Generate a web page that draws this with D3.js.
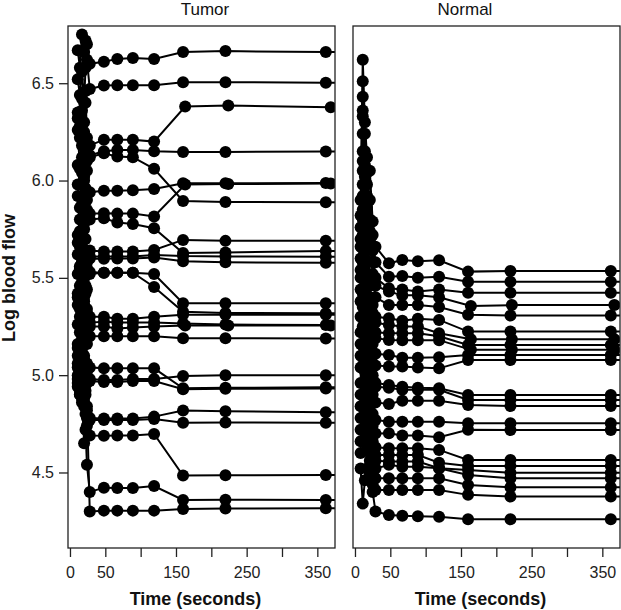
<!DOCTYPE html>
<html><head><meta charset="utf-8">
<script src="https://cdn.jsdelivr.net/npm/d3@7"></script>
<style>
body{margin:0;background:#fff}
svg{display:block}
text{font-family:"Liberation Sans",Arial,Helvetica,sans-serif}
</style>
</head><body>
<svg id="chart" width="621" height="610"></svg>
<script>
// ---------- DATA ----------
const panelNames = ["Tumor", "Normal"];
const xTicks = [0, 50, 100, 150, 200, 250, 300, 350];
const xTickLabels = ["0", "50", "", "150", "", "250", "", "350"];
const yTicks = [4.5, 5.0, 5.5, 6.0, 6.5];
const yTickLabels = ["4.5", "5.0", "5.5", "6.0", "6.5"];
const xTitle = "Time (seconds)";
const yTitle = "Log blood flow";

const tumorTimes  = [11, 14, 17, 20, 22, 24, 28, 48, 67, 89, 119, 160, 220, 362, 420];
const tumorTimesB = [11, 14, 17, 20, 22, 24, 28, 48, 67, 89, 119, 163, 224, 369, 420];
const tumorTimesBIds = ["T3", "T7", "T16"];
const tumorIds = ["T1","T2","T3","T4","T5","T6","T7","T8","T9","T10","T11","T12","T13",
                  "T14","T15","T16","T17","T18","T19","T20","T21","T22","T23","T24","T25"];
const tumorValues = [
  [6.67, 6.58, 6.75, 6.66, 6.72, 6.70, 6.60, 6.61, 6.625, 6.63, 6.625, 6.66, 6.665, 6.66, 6.66],
  [6.52, 6.44, 6.56, 6.40, 6.58, 6.62, 6.47, 6.488, 6.49, 6.49, 6.49, 6.505, 6.505, 6.503, 6.503],
  [6.35, 6.28, 6.42, 6.30, 6.46, 6.22, 6.18, 6.21, 6.21, 6.21, 6.20, 6.38, 6.385, 6.377, 6.377],
  [6.32, 6.22, 6.36, 6.25, 6.40, 6.10, 6.13, 6.15, 6.157, 6.157, 6.15, 6.147, 6.147, 6.149, 6.149],
  [6.26, 6.06, 6.18, 6.00, 6.22, 6.05, 6.12, 6.14, 6.123, 6.12, 6.06, 5.895, 5.89, 5.888, 5.888],
  [6.08, 5.98, 6.12, 6.02, 6.16, 5.90, 5.94, 5.947, 5.947, 5.95, 5.957, 5.986, 5.986, 5.987, 5.987],
  [5.98, 5.86, 6.04, 5.92, 5.96, 5.80, 5.83, 5.832, 5.83, 5.83, 5.815, 5.98, 5.982, 5.985, 5.985],
  [5.92, 5.74, 5.88, 5.78, 5.90, 5.85, 5.80, 5.806, 5.784, 5.777, 5.755, 5.628, 5.63, 5.638, 5.638],
  [5.72, 5.80, 5.66, 5.75, 5.84, 5.60, 5.64, 5.635, 5.635, 5.635, 5.643, 5.695, 5.69, 5.691, 5.691],
  [5.68, 5.56, 5.74, 5.62, 5.70, 5.58, 5.61, 5.61, 5.61, 5.61, 5.618, 5.612, 5.61, 5.609, 5.609],
  [5.52, 5.66, 5.58, 5.70, 5.64, 5.55, 5.60, 5.598, 5.60, 5.60, 5.605, 5.585, 5.58, 5.578, 5.578],
  [5.62, 5.46, 5.58, 5.50, 5.56, 5.44, 5.53, 5.526, 5.526, 5.526, 5.52, 5.37, 5.37, 5.369, 5.369],
  [5.42, 5.55, 5.48, 5.38, 5.46, 5.52, 5.52, 5.526, 5.526, 5.526, 5.453, 5.326, 5.32, 5.318, 5.318],
  [5.40, 5.34, 5.46, 5.36, 5.42, 5.32, 5.30, 5.30, 5.29, 5.29, 5.30, 5.31, 5.31, 5.31, 5.31],
  [5.36, 5.22, 5.30, 5.40, 5.34, 5.26, 5.27, 5.275, 5.27, 5.27, 5.27, 5.265, 5.26, 5.258, 5.258],
  [5.16, 5.30, 5.24, 5.20, 5.28, 5.34, 5.25, 5.25, 5.24, 5.245, 5.25, 5.255, 5.255, 5.255, 5.255],
  [5.26, 5.12, 5.18, 5.28, 5.22, 5.16, 5.20, 5.20, 5.20, 5.20, 5.20, 5.19, 5.19, 5.189, 5.189],
  [5.14, 5.08, 5.20, 5.10, 5.16, 5.02, 5.04, 5.035, 5.035, 5.035, 5.035, 4.933, 4.935, 4.938, 4.938],
  [5.10, 5.04, 5.12, 4.98, 5.00, 5.06, 4.98, 4.975, 4.975, 4.98, 4.98, 4.996, 4.999, 4.999, 4.999],
  [5.06, 4.94, 5.02, 5.08, 4.92, 4.96, 4.97, 4.965, 4.965, 4.97, 4.97, 4.928, 4.93, 4.932, 4.932],
  [4.96, 5.04, 4.92, 4.86, 4.90, 4.82, 4.78, 4.778, 4.778, 4.778, 4.787, 4.818, 4.815, 4.809, 4.809],
  [5.00, 4.90, 4.98, 4.88, 4.96, 4.78, 4.77, 4.77, 4.77, 4.77, 4.775, 4.756, 4.757, 4.756, 4.756],
  [4.94, 5.02, 4.88, 4.65, 4.80, 4.74, 4.69, 4.689, 4.69, 4.69, 4.698, 4.484, 4.486, 4.487, 4.487],
  [4.98, 4.90, 4.96, 4.84, 4.72, 4.54, 4.40, 4.422, 4.42, 4.42, 4.43, 4.359, 4.36, 4.359, 4.359],
  [5.04, 4.92, 4.86, 4.90, 4.96, 4.84, 4.30, 4.304, 4.304, 4.304, 4.304, 4.312, 4.315, 4.316, 4.316]
];

const normalTimes  = [8, 11, 14, 17, 21, 25, 29, 48, 67, 89, 119, 160, 220, 362, 420];
const normalTimesB = [8, 11, 14, 17, 21, 25, 29, 48, 67, 89, 119, 164, 222, 367, 420];
const normalTimesBIds = ["N4", "N7", "N9"];
const normalIds = ["N1","N2","N3","N4","N5","N6","N7","N8","N9","N10","N11","N12",
                   "N13","N14","N15","N16","N17","N18","N19","N20","N21","N22","N23"];
const normalValues = [
  [5.90, 6.62, 6.30, 6.12, 6.05, 5.79, 5.66, 5.575, 5.592, 5.585, 5.59, 5.532, 5.535, 5.535, 5.535],
  [5.82, 6.51, 6.24, 6.04, 5.90, 5.72, 5.58, 5.506, 5.51, 5.50, 5.506, 5.48, 5.48, 5.48, 5.48],
  [5.76, 6.43, 6.15, 5.98, 5.80, 5.64, 5.50, 5.447, 5.44, 5.43, 5.44, 5.424, 5.424, 5.424, 5.424],
  [5.70, 6.36, 6.08, 5.92, 5.74, 5.58, 5.46, 5.43, 5.41, 5.41, 5.40, 5.355, 5.36, 5.361, 5.361],
  [5.66, 6.33, 6.02, 5.86, 5.68, 5.52, 5.40, 5.361, 5.36, 5.36, 5.35, 5.31, 5.306, 5.306, 5.306],
  [5.60, 6.24, 5.90, 5.64, 5.46, 5.36, 5.30, 5.292, 5.28, 5.29, 5.284, 5.224, 5.224, 5.224, 5.224],
  [5.54, 6.15, 5.84, 5.58, 5.40, 5.32, 5.27, 5.258, 5.25, 5.25, 5.215, 5.184, 5.184, 5.184, 5.184],
  [5.50, 6.10, 5.78, 5.52, 5.36, 5.26, 5.22, 5.215, 5.215, 5.215, 5.20, 5.155, 5.155, 5.155, 5.155],
  [5.44, 6.05, 5.72, 5.46, 5.30, 5.22, 5.19, 5.181, 5.18, 5.18, 5.18, 5.13, 5.13, 5.13, 5.13],
  [5.38, 5.98, 5.66, 5.40, 5.24, 5.16, 5.11, 5.104, 5.09, 5.09, 5.092, 5.104, 5.104, 5.104, 5.104],
  [5.30, 5.92, 5.60, 5.34, 5.18, 5.10, 5.05, 5.044, 5.044, 5.04, 5.035, 5.078, 5.078, 5.078, 5.078],
  [5.22, 5.85, 5.54, 5.26, 5.10, 5.00, 4.96, 4.95, 4.94, 4.935, 4.933, 4.898, 4.898, 4.898, 4.898],
  [5.16, 5.80, 5.46, 5.20, 5.04, 4.98, 4.94, 4.935, 4.925, 4.925, 4.925, 4.873, 4.873, 4.873, 4.873],
  [5.10, 5.72, 5.40, 5.12, 4.96, 4.90, 4.86, 4.852, 4.869, 4.869, 4.869, 4.847, 4.842, 4.842, 4.842],
  [5.04, 5.65, 5.30, 5.06, 4.88, 4.80, 4.77, 4.761, 4.761, 4.761, 4.761, 4.753, 4.753, 4.753, 4.753],
  [4.96, 5.58, 5.24, 4.98, 4.82, 4.74, 4.70, 4.701, 4.69, 4.69, 4.681, 4.719, 4.718, 4.718, 4.718],
  [4.90, 5.50, 5.16, 4.92, 4.74, 4.66, 4.63, 4.624, 4.624, 4.624, 4.616, 4.564, 4.564, 4.564, 4.564],
  [4.84, 5.42, 5.10, 4.86, 4.70, 4.62, 4.59, 4.59, 4.59, 4.59, 4.55, 4.533, 4.533, 4.533, 4.533],
  [4.78, 5.35, 5.02, 4.80, 4.66, 4.58, 4.56, 4.556, 4.556, 4.556, 4.522, 4.513, 4.499, 4.499, 4.499],
  [4.72, 5.25, 4.96, 4.74, 4.60, 4.54, 4.52, 4.54, 4.53, 4.53, 4.522, 4.487, 4.47, 4.47, 4.47],
  [4.66, 5.15, 4.88, 4.68, 4.56, 4.50, 4.47, 4.47, 4.47, 4.47, 4.47, 4.436, 4.424, 4.424, 4.424],
  [4.60, 5.05, 4.80, 4.62, 4.50, 4.44, 4.41, 4.41, 4.41, 4.41, 4.41, 4.385, 4.376, 4.376, 4.376],
  [4.52, 4.34, 4.46, 4.52, 4.48, 4.40, 4.30, 4.282, 4.278, 4.275, 4.273, 4.26, 4.26, 4.26, 4.26]
];

// ---------- LAYOUT ----------
const svg = d3.select("#chart");
const plotTop = 26, plotBottom = 548;
const xDomain = [-2.8, 375];
const yDomain = [4.112, 6.794];
const y = d3.scaleLinear().domain(yDomain).range([plotBottom, plotTop]);
const pointR = 6;

const panels = [
  {name: panelNames[0], ids: tumorIds, values: tumorValues, times: tumorTimes,
   timesB: tumorTimesB, bIds: tumorTimesBIds, x0: 68, x1: 335, titleX: 205, yAxis: true},
  {name: panelNames[1], ids: normalIds, values: normalValues, times: normalTimes,
   timesB: normalTimesB, bIds: normalTimesBIds, x0: 353, x1: 620, titleX: 465, yAxis: false}
];

const lineFor = (x) => d3.line().x(d => x(d.t)).y(d => y(d.v));

panels.forEach((p, pi) => {
  const x = d3.scaleLinear().domain(xDomain).range([p.x0, p.x1]);
  const clipId = "clip" + pi;
  svg.append("clipPath").attr("id", clipId)
    .append("rect").attr("x", p.x0).attr("y", plotTop)
    .attr("width", p.x1 - p.x0).attr("height", plotBottom - plotTop);

  const g = svg.append("g").attr("clip-path", `url(#${clipId})`);
  p.ids.forEach((id, i) => {
    const ts = p.bIds.includes(id) ? p.timesB : p.times;
    const pts = p.values[i].map((v, k) => ({t: ts[k], v}));
    g.append("path").datum(pts)
      .attr("d", lineFor(x))
      .attr("fill", "none").attr("stroke", "#000").attr("stroke-width", 2);
    g.selectAll(null).data(pts).enter().append("circle")
      .attr("cx", d => x(d.t)).attr("cy", d => y(d.v)).attr("r", pointR)
      .attr("fill", "#000");
  });

  svg.append("rect").attr("x", p.x0).attr("y", plotTop)
    .attr("width", p.x1 - p.x0).attr("height", plotBottom - plotTop)
    .attr("fill", "none").attr("stroke", "#222").attr("stroke-width", 1.3);

  const xa = svg.append("g").attr("transform", `translate(0,${plotBottom})`)
    .call(d3.axisBottom(x).tickValues(xTicks)
      .tickFormat((d, k) => xTickLabels[k]).tickSize(9).tickSizeOuter(0));
  xa.select(".domain").remove();
  xa.selectAll(".tick line").attr("stroke", "#222").attr("stroke-width", 1.3);
  xa.selectAll(".tick text").attr("y", 30).attr("dy", 0)
    .attr("font-size", 16).attr("fill", "#222")
    .attr("font-family", '"Liberation Sans", Arial, sans-serif');

  svg.append("text").attr("x", (p.x0 + p.x1) / 2 - 6).attr("y", 605)
    .attr("text-anchor", "middle").attr("font-size", 18).attr("font-weight", "bold")
    .attr("fill", "#111").text(xTitle);

  svg.append("text").attr("x", p.titleX).attr("y", 15)
    .attr("text-anchor", "middle").attr("font-size", 17).attr("fill", "#111").text(p.name);

  if (p.yAxis) {
    const ya = svg.append("g").attr("transform", `translate(${p.x0},0)`)
      .call(d3.axisLeft(y).tickValues(yTicks)
        .tickFormat((d, k) => yTickLabels[k]).tickSize(9).tickSizeOuter(0));
    ya.select(".domain").remove();
    ya.selectAll(".tick line").attr("stroke", "#222").attr("stroke-width", 1.3);
    ya.selectAll(".tick text").attr("x", -14)
      .attr("font-size", 16).attr("fill", "#222")
      .attr("font-family", '"Liberation Sans", Arial, sans-serif');
  }
});

svg.append("text")
  .attr("transform", "translate(15,278) rotate(-90)")
  .attr("text-anchor", "middle").attr("font-size", 18).attr("font-weight", "bold")
  .attr("fill", "#111").text(yTitle);
</script>
</body></html>
